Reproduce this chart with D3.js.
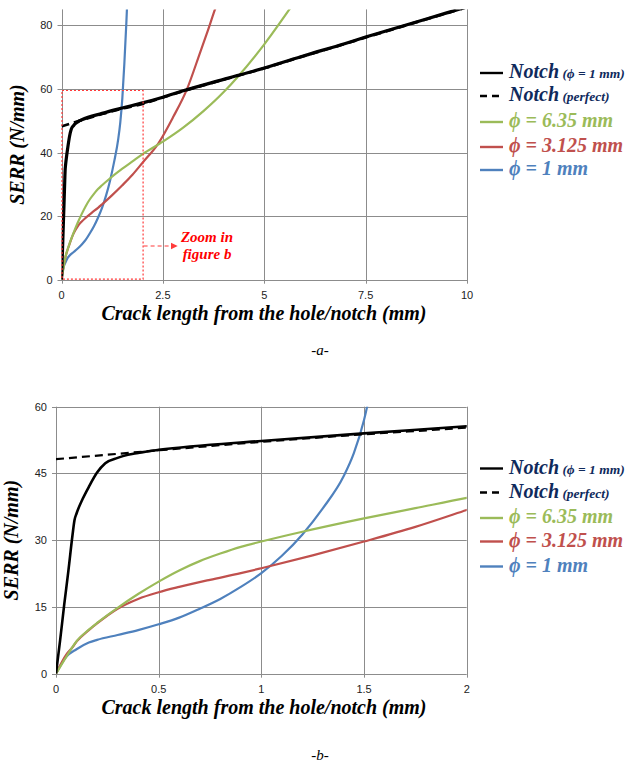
<!DOCTYPE html>
<html><head><meta charset="utf-8">
<script src="https://cdn.jsdelivr.net/npm/d3@7/dist/d3.min.js"></script>
<style>
body{margin:0;background:#fff;}
svg{display:block;}
</style></head>
<body>
<svg id="c" width="639" height="765"></svg>
<script>
// ---- data ----
const notchX   = [0,0.02,0.04,0.06,0.08,0.09,0.1,0.13,0.16,0.2,0.24,0.3,0.35,0.4,0.45,0.5,1,1.5,2,2.5,3,4,5,6,7,7.5,8,9,10];
const notchY   = [0,7.5,15.5,23,31,34.5,36,39.3,42,45.2,47.3,48.5,49.2,49.6,50.0,50.3,52.3,54.0,55.6,57.4,59.4,63.0,66.6,70.5,74.3,76.3,78.2,82.0,85.8];
const perfectX = [0,0.5,1,1.5,2,2.5,3,4,5,6,7,7.5,8,9,10];
const perfectY = [48.2,50.2,52.1,53.8,55.3,57.3,59.3,62.9,66.5,70.4,74.2,76.2,78.1,81.9,85.7];
const phi635X  = [0,0.05,0.1,0.16,0.2,0.3,0.4,0.5,0.6,0.7,0.8,0.9,1,1.2,1.5,1.75,2,2.5,3,3.5,4,4.36,5,5.62,5.8];
const phi635Y  = [0,3.8,7.3,9.9,11.4,14.8,17.9,20.7,23.2,25.3,27.0,28.5,29.7,31.9,34.9,37.2,39.5,43.4,47.8,53.0,59.0,64.0,74.0,85,88.3];
const phi3125X = [0,0.05,0.08,0.1,0.16,0.2,0.3,0.4,0.5,0.6,0.75,0.9,1,1.25,1.5,1.75,2,2.39,2.76,3.087,3.42,3.6,3.785,3.9];
const phi3125Y = [0,4.3,5.9,7.2,9.8,11.3,14.6,16.8,18.3,19.5,21.1,22.6,23.7,26.6,29.7,33.0,36.8,42.9,51.3,59.7,71.5,78,85,89];
const phi1X    = [0,0.05,0.1,0.16,0.2,0.3,0.4,0.5,0.6,0.7,0.8,0.9,1,1.1,1.2,1.3,1.4,1.45,1.5,1.55,1.6,1.63];
const phi1Y    = [0,3.8,5.5,7.0,7.6,8.7,9.8,11.1,12.6,14.6,16.8,19.5,22.6,26.5,31.3,37.2,44.3,49.5,57,68,81,90];

const topXTicks = [0,2.5,5,7.5,10];
const topXLabels = ["0","2.5","5","7.5","10"];
const topYTicks = [0,20,40,60,80];
const botXTicks = [0,0.5,1,1.5,2];
const botXLabels = ["0","0.5","1","1.5","2"];
const botYTicks = [0,15,30,45,60];

const zoomBoxX = [0,2];
const zoomBoxY = [0,59.5];

const legendMain = ["Notch","Notch","ϕ = 6.35 mm","ϕ = 3.125 mm","ϕ = 1 mm"];
const legendSub  = [" (ϕ = 1 mm)"," (perfect)","","",""];

// ---- styles ----
const series = [
  {x:phi1X,    y:phi1Y,    color:"#4f81bd", dash:null,  w:2.2},
  {x:phi3125X, y:phi3125Y, color:"#c0504d", dash:null,  w:2.2},
  {x:phi635X,  y:phi635Y,  color:"#9bbb59", dash:null,  w:2.2},
  {x:perfectX, y:perfectY, color:"#000",    dash:"8,5", w:2.2},
  {x:notchX,   y:notchY,   color:"#000",    dash:null,  w:2.6}
];
const legendColors = ["#0f2a5c","#0f2a5c","#9bbb59","#c0504d","#4f81bd"];
const legendLine   = [{c:"#000",d:null},{c:"#000",d:"7,5"},{c:"#9bbb59",d:null},{c:"#c0504d",d:null},{c:"#4f81bd",d:null}];
const gridColor = "#8c8c8c";
const serif = "'Liberation Serif','Times New Roman',serif";
const sans  = "'Liberation Sans',Arial,sans-serif";

const svg = d3.select("#c");

function panel(id, xDom, yDom, xr, yr, xt, xl, yt, legendY, lineW) {
  const x = d3.scaleLinear().domain(xDom).range(xr);
  const y = d3.scaleLinear().domain(yDom).range(yr);
  const g = svg.append("g");
  g.append("clipPath").attr("id","clip"+id).append("rect")
    .attr("x",xr[0]).attr("y",yr[1]).attr("width",xr[1]-xr[0]).attr("height",yr[0]-yr[1]);
  g.selectAll(".vg").data(xt).enter().append("line")
    .attr("x1",d=>Math.round(x(d))+0.5).attr("x2",d=>Math.round(x(d))+0.5)
    .attr("y1",yr[1]).attr("y2",yr[0]+4).attr("stroke",gridColor).attr("stroke-width",1);
  g.selectAll(".hg").data(yt).enter().append("line")
    .attr("y1",d=>Math.round(y(d))+0.5).attr("y2",d=>Math.round(y(d))+0.5)
    .attr("x1",xr[0]-4).attr("x2",xr[1]).attr("stroke",gridColor).attr("stroke-width",1);
  g.selectAll(".xl").data(xt).enter().append("text")
    .attr("x",d=>x(d)).attr("y",yr[0]+19).attr("text-anchor","middle")
    .attr("font-family",sans).attr("font-size",11).attr("fill","#222")
    .text((d,i)=>xl[i]);
  g.selectAll(".yl").data(yt).enter().append("text")
    .attr("x",xr[0]-9).attr("y",d=>y(d)+4).attr("text-anchor","end")
    .attr("font-family",sans).attr("font-size",11).attr("fill","#222")
    .text(d=>d);
  const lg = g.append("g").attr("clip-path","url(#clip"+id+")");
  series.forEach(s=>{
    const pts = s.x.map((v,i)=>[v,s.y[i]]);
    lg.append("path").datum(pts)
      .attr("d", d3.line().x(d=>x(d[0])).y(d=>y(d[1])).curve(d3.curveMonotoneX))
      .attr("fill","none").attr("stroke",s.color)
      .attr("stroke-width", s.color==="#000" ? lineW + (s.dash?0:0.4) : s.w)
      .attr("stroke-dasharray", s.dash);
  });
  g.append("text").attr("transform",`translate(${xr[0]-38},${(yr[0]+yr[1])/2}) rotate(-90)`)
    .attr("text-anchor","middle").attr("font-family",serif).attr("font-weight","bold")
    .attr("font-style","italic").attr("font-size",20).attr("fill","#000").text("SERR (N/mm)");
  g.append("text").attr("x",264).attr("y",yr[0]+40).attr("text-anchor","middle")
    .attr("font-family",serif).attr("font-weight","bold").attr("font-style","italic")
    .attr("font-size",20).attr("fill","#000").text("Crack length from the hole/notch (mm)");
  legendY.forEach((ly,i)=>{
    g.append("line").attr("x1",480).attr("x2",503).attr("y1",ly).attr("y2",ly)
      .attr("stroke",legendLine[i].c).attr("stroke-width",2.4).attr("stroke-dasharray",legendLine[i].d);
    const t = g.append("text").attr("x",509).attr("y",ly+5)
      .attr("font-family",serif).attr("font-weight","bold").attr("font-style","italic")
      .attr("font-size",20).attr("fill",legendColors[i]);
    t.append("tspan").text(legendMain[i]);
    if (legendSub[i]) t.append("tspan").attr("font-size",13.5).text(legendSub[i]);
  });
  return {x,y,g};
}

const topP = panel("a",[0,10],[0,85],[61.5,467],[279.7,9.4],topXTicks,topXLabels,topYTicks,[73,96,122,147,170],2.8);
const botP = panel("b",[0,2],[0,60],[56,466.7],[673.7,406.7],botXTicks,botXLabels,botYTicks,[468.5,492.5,518,541.5,566.5],2.2);

const zx0 = topP.x(zoomBoxX[0]), zx1 = topP.x(zoomBoxX[1]);
const zy0 = topP.y(zoomBoxY[0]), zy1 = topP.y(zoomBoxY[1]);
topP.g.append("rect").attr("x",zx0+0.5).attr("y",zy1).attr("width",zx1-zx0).attr("height",zy0-zy1-0.5)
  .attr("fill","none").attr("stroke","#ff3b3b").attr("stroke-width",1.2).attr("stroke-dasharray","2,2");
svg.append("defs").append("marker").attr("id","arr").attr("viewBox","0 0 10 10").attr("refX",9).attr("refY",5)
  .attr("markerWidth",6).attr("markerHeight",6).attr("orient","auto")
  .append("path").attr("d","M0,0L10,5L0,10z").attr("fill","#ff3b3b");
topP.g.append("line").attr("x1",zx1+1).attr("x2",177).attr("y1",246).attr("y2",246)
  .attr("stroke","#ff3b3b").attr("stroke-width",1.2).attr("stroke-dasharray","4,3").attr("marker-end","url(#arr)");
[["Zoom in",242],["figure b",259]].forEach(([t,yy])=>{
  topP.g.append("text").attr("x",207).attr("y",yy).attr("text-anchor","middle")
    .attr("font-family",serif).attr("font-weight","bold").attr("font-style","italic")
    .attr("font-size",15).attr("fill","#ff0000").text(t);
});

svg.append("text").attr("x",320).attr("y",355).attr("text-anchor","middle")
  .attr("font-family",serif).attr("font-style","italic").attr("font-size",15).text("-a-");
svg.append("text").attr("x",320).attr("y",760).attr("text-anchor","middle")
  .attr("font-family",serif).attr("font-style","italic").attr("font-size",15).text("-b-");
</script>
</body></html>
